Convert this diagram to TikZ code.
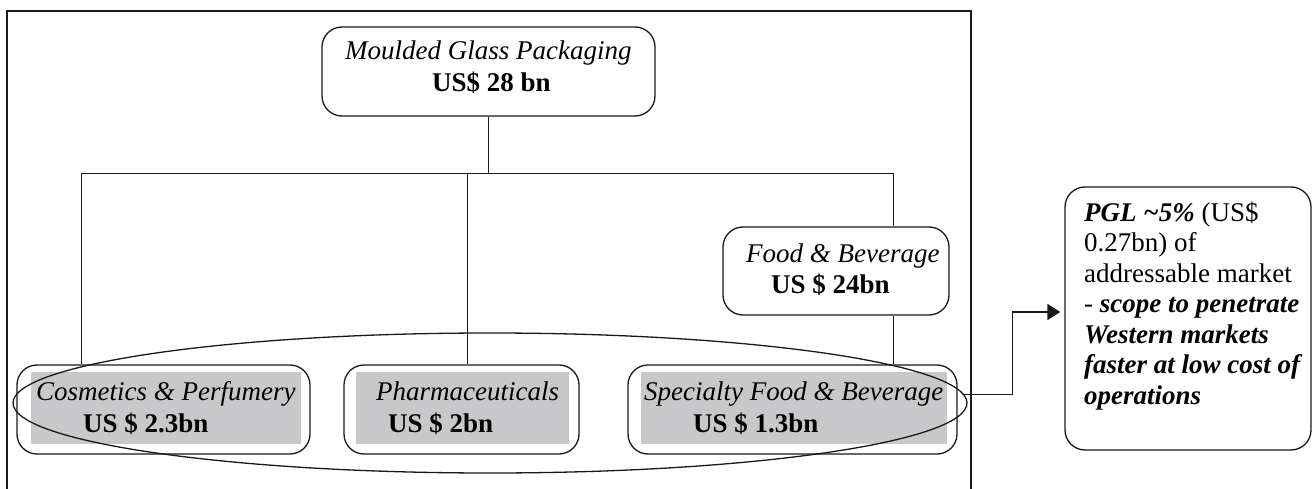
\documentclass[tikz,border=0pt]{standalone}
\usepackage{fontspec}
\setmainfont{Liberation Serif}
\usetikzlibrary{shapes.geometric,arrows.meta}
\definecolor{boxgray}{RGB}{200,200,202}
\definecolor{ink}{RGB}{25,25,25}
\tikzset{
  rbox/.style={draw=ink, line width=1.3pt, rounded corners=20pt, inner sep=0pt},
  graybox/.style={fill=boxgray, draw=none, inner sep=0pt},
  txt/.style={anchor=base west, inner sep=0pt, font=\fontsize{27}{31}\selectfont},
  conn/.style={draw=ink, line width=1.3pt},
}
\begin{document}
\begin{tikzpicture}[x=1pt,y=-1pt]
\useasboundingbox (0,0) rectangle (1313,489);
% outer frame
\draw[ink, line width=2.8pt] (7,500) -- (7,11) -- (971,11) -- (971,500);
% boxes
\node[rbox, minimum width=333pt, minimum height=89pt] (top) at (488.5,71.5) {};
\node[rbox, minimum width=226pt, minimum height=88pt] (food) at (836,271) {};
\node[rbox, minimum width=293pt, minimum height=89pt] (cos) at (163.5,409.5) {};
\node[rbox, minimum width=235pt, minimum height=89pt] (pha) at (461.5,409.5) {};
\node[rbox, minimum width=329pt, minimum height=89pt] (spe) at (792.5,409.5) {};
\node[rbox, minimum width=246pt, minimum height=263pt] (pgl) at (1188,318.5) {};
% gray fills
\node[graybox, minimum width=270pt, minimum height=72pt] (cosg) at (166,408) {};
\node[graybox, minimum width=213pt, minimum height=72pt] (phag) at (462.5,408) {};
\node[graybox, minimum width=306pt, minimum height=72pt] (speg) at (794,408) {};
% texts
\node[txt] (t1) at (345,60) {\textit{Moulded Glass Packaging}};
\node[txt] (t2) at (432,92) {\textbf{US\$ 28 bn}};
\node[txt] (f1) at (746,262) {\textit{Food \& Beverage}};
\node[txt] (f2) at (771,293) {\textbf{US \$ 24bn}};
\node[txt] (c1) at (36,400) {\textit{Cosmetics \& Perfumery}};
\node[txt] (c2) at (83,432) {\textbf{US \$ 2.3bn}};
\node[txt] (p1) at (376,400) {\textit{Pharmaceuticals}};
\node[txt] (p2) at (388,432) {\textbf{US \$ 2bn}};
\node[txt] (s1) at (644,400) {\textit{Specialty Food \& Beverage}};
\node[txt] (s2) at (693,432) {\textbf{US \$ 1.3bn}};
\node[txt] (g1) at (1084,221) {\textbf{\textit{PGL \textasciitilde5\%}} (US\$};
\node[txt] (g2) at (1084,251.5) {0.27bn) of};
\node[txt] (g3) at (1084,282) {addressable market};
\node[txt] (g4) at (1084,312.5) {- \textbf{\textit{scope to penetrate}}};
\node[txt] (g5) at (1084,343) {\textbf{\textit{Western markets}}};
\node[txt] (g6) at (1084,373.5) {\textbf{\textit{faster at low cost of}}};
\node[txt] (g7) at (1084,404) {\textbf{\textit{operations}}};
% tree connectors
\draw[conn] (top.south) -- ++(0,57) coordinate (bus);
\draw[conn] ([xshift=65pt]cos.north west) -- ([xshift=65pt]cos.north west |- bus)
  -| ([xshift=-56pt]food.north east);
\draw[conn] ([xshift=124pt]pha.north west) -- ([xshift=124pt]pha.north west |- bus);
\draw[conn] ([xshift=-56pt]food.south east) -- ([xshift=-64pt]spe.north east);
% ellipse
\node[draw=ink, line width=1.3pt, ellipse, minimum width=954pt, minimum height=140pt, inner sep=0pt] (ell) at (490,403) {};
% arrow
\coordinate (tip) at ([xshift=-4pt]pgl.west |- 0,312);
\draw[conn, -{Triangle[length=13pt,width=16pt]}] (ell.1.2) -| ([xshift=-48pt]tip) -- (tip);
\end{tikzpicture}
\end{document}
